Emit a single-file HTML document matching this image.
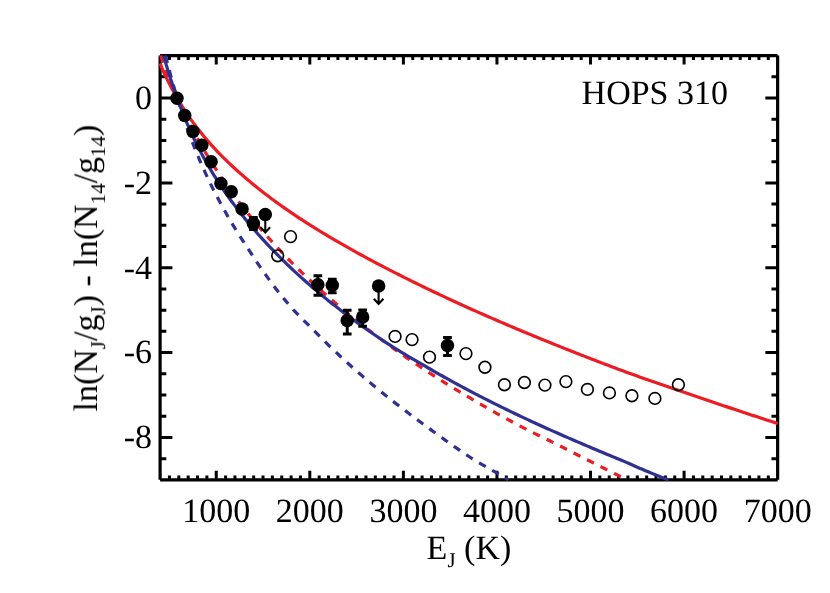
<!DOCTYPE html>
<html><head><meta charset="utf-8"><title>HOPS 310</title>
<style>html,body{margin:0;padding:0;background:#fff;}body{width:830px;height:593px;overflow:hidden;position:relative;font-family:"Liberation Serif",serif;}</style>
</head><body>
<svg width="830" height="593" viewBox="0 0 830 593" style="position:absolute;left:0;top:0">
<defs><mask id="m" maskUnits="userSpaceOnUse" x="0" y="0" width="830" height="593"><rect width="830" height="593" fill="#fff"/></mask></defs>
<rect width="830" height="593" fill="#fff"/>
<g stroke="#000" stroke-width="3.00" fill="none" stroke-linecap="butt">
<path d="M160.10,55.60 H777.65 M160.10,479.85 H777.65" stroke-width="3.05"/>
<path d="M160.10,479.85 V55.60 M777.65,479.85 V55.60" stroke-width="3.2"/>
<path d="M169.46,479.85 v-4.30 M169.46,55.60 v4.30 M178.81,479.85 v-4.30 M178.81,55.60 v4.30 M188.17,479.85 v-4.30 M188.17,55.60 v4.30 M197.53,479.85 v-4.30 M197.53,55.60 v4.30 M206.88,479.85 v-4.30 M206.88,55.60 v4.30 M216.24,479.85 v-9.00 M216.24,55.60 v9.00 M225.60,479.85 v-4.30 M225.60,55.60 v4.30 M234.95,479.85 v-4.30 M234.95,55.60 v4.30 M244.31,479.85 v-4.30 M244.31,55.60 v4.30 M253.67,479.85 v-4.30 M253.67,55.60 v4.30 M263.02,479.85 v-4.30 M263.02,55.60 v4.30 M272.38,479.85 v-4.30 M272.38,55.60 v4.30 M281.74,479.85 v-4.30 M281.74,55.60 v4.30 M291.10,479.85 v-4.30 M291.10,55.60 v4.30 M300.45,479.85 v-4.30 M300.45,55.60 v4.30 M309.81,479.85 v-9.00 M309.81,55.60 v9.00 M319.17,479.85 v-4.30 M319.17,55.60 v4.30 M328.52,479.85 v-4.30 M328.52,55.60 v4.30 M337.88,479.85 v-4.30 M337.88,55.60 v4.30 M347.24,479.85 v-4.30 M347.24,55.60 v4.30 M356.59,479.85 v-4.30 M356.59,55.60 v4.30 M365.95,479.85 v-4.30 M365.95,55.60 v4.30 M375.31,479.85 v-4.30 M375.31,55.60 v4.30 M384.66,479.85 v-4.30 M384.66,55.60 v4.30 M394.02,479.85 v-4.30 M394.02,55.60 v4.30 M403.38,479.85 v-9.00 M403.38,55.60 v9.00 M412.73,479.85 v-4.30 M412.73,55.60 v4.30 M422.09,479.85 v-4.30 M422.09,55.60 v4.30 M431.45,479.85 v-4.30 M431.45,55.60 v4.30 M440.80,479.85 v-4.30 M440.80,55.60 v4.30 M450.16,479.85 v-4.30 M450.16,55.60 v4.30 M459.52,479.85 v-4.30 M459.52,55.60 v4.30 M468.88,479.85 v-4.30 M468.88,55.60 v4.30 M478.23,479.85 v-4.30 M478.23,55.60 v4.30 M487.59,479.85 v-4.30 M487.59,55.60 v4.30 M496.95,479.85 v-9.00 M496.95,55.60 v9.00 M506.30,479.85 v-4.30 M506.30,55.60 v4.30 M515.66,479.85 v-4.30 M515.66,55.60 v4.30 M525.02,479.85 v-4.30 M525.02,55.60 v4.30 M534.37,479.85 v-4.30 M534.37,55.60 v4.30 M543.73,479.85 v-4.30 M543.73,55.60 v4.30 M553.09,479.85 v-4.30 M553.09,55.60 v4.30 M562.44,479.85 v-4.30 M562.44,55.60 v4.30 M571.80,479.85 v-4.30 M571.80,55.60 v4.30 M581.16,479.85 v-4.30 M581.16,55.60 v4.30 M590.51,479.85 v-9.00 M590.51,55.60 v9.00 M599.87,479.85 v-4.30 M599.87,55.60 v4.30 M609.23,479.85 v-4.30 M609.23,55.60 v4.30 M618.58,479.85 v-4.30 M618.58,55.60 v4.30 M627.94,479.85 v-4.30 M627.94,55.60 v4.30 M637.30,479.85 v-4.30 M637.30,55.60 v4.30 M646.65,479.85 v-4.30 M646.65,55.60 v4.30 M656.01,479.85 v-4.30 M656.01,55.60 v4.30 M665.37,479.85 v-4.30 M665.37,55.60 v4.30 M674.73,479.85 v-4.30 M674.73,55.60 v4.30 M684.08,479.85 v-9.00 M684.08,55.60 v9.00 M693.44,479.85 v-4.30 M693.44,55.60 v4.30 M702.80,479.85 v-4.30 M702.80,55.60 v4.30 M712.15,479.85 v-4.30 M712.15,55.60 v4.30 M721.51,479.85 v-4.30 M721.51,55.60 v4.30 M730.87,479.85 v-4.30 M730.87,55.60 v4.30 M740.22,479.85 v-4.30 M740.22,55.60 v4.30 M749.58,479.85 v-4.30 M749.58,55.60 v4.30 M758.94,479.85 v-4.30 M758.94,55.60 v4.30 M768.29,479.85 v-4.30 M768.29,55.60 v4.30 M160.10,458.64 h6.20 M777.65,458.64 h-6.20 M160.10,437.42 h12.30 M777.65,437.42 h-12.30 M160.10,416.21 h6.20 M777.65,416.21 h-6.20 M160.10,395.00 h6.20 M777.65,395.00 h-6.20 M160.10,373.79 h6.20 M777.65,373.79 h-6.20 M160.10,352.57 h12.30 M777.65,352.57 h-12.30 M160.10,331.36 h6.20 M777.65,331.36 h-6.20 M160.10,310.15 h6.20 M777.65,310.15 h-6.20 M160.10,288.94 h6.20 M777.65,288.94 h-6.20 M160.10,267.73 h12.30 M777.65,267.73 h-12.30 M160.10,246.51 h6.20 M777.65,246.51 h-6.20 M160.10,225.30 h6.20 M777.65,225.30 h-6.20 M160.10,204.09 h6.20 M777.65,204.09 h-6.20 M160.10,182.88 h12.30 M777.65,182.88 h-12.30 M160.10,161.66 h6.20 M777.65,161.66 h-6.20 M160.10,140.45 h6.20 M777.65,140.45 h-6.20 M160.10,119.24 h6.20 M777.65,119.24 h-6.20 M160.10,98.03 h12.30 M777.65,98.03 h-12.30 M160.10,76.81 h6.20 M777.65,76.81 h-6.20"/>
</g>
<g fill="none" stroke-width="3.2" stroke-linejoin="round" stroke-linecap="butt">
<path d="M160.10,63.40 L162.00,68.06 L164.19,73.08 L166.38,77.80 L168.57,82.26 L170.76,86.50 L172.95,90.55 L175.14,94.47 L177.33,98.27 L179.52,101.97 L181.71,105.55 L183.90,109.02 L186.09,112.38 L188.28,115.65 L190.47,118.81 L192.66,121.89 L194.85,124.88 L197.04,127.78 L199.23,130.60 L201.42,133.33 L203.61,136.00 L205.80,138.60 L207.99,141.15 L210.18,143.63 L212.37,146.07 L214.56,148.45 L216.76,150.78 L218.95,153.07 L221.14,155.32 L223.33,157.52 L225.52,159.69 L227.71,161.81 L229.90,163.91 L232.09,165.97 L234.28,167.99 L236.47,169.99 L238.66,171.96 L240.85,173.89 L243.04,175.81 L245.23,177.69 L247.42,179.56 L249.61,181.39 L251.80,183.21 L253.99,185.01 L256.18,186.78 L258.37,188.53 L260.56,190.27 L262.75,191.98 L264.94,193.68 L267.13,195.35 L269.32,197.01 L271.51,198.66 L273.70,200.28 L275.89,201.89 L278.09,203.48 L280.28,205.05 L282.47,206.61 L284.66,208.15 L286.85,209.68 L289.04,211.19 L291.23,212.69 L293.42,214.17 L295.61,215.64 L297.80,217.10 L299.99,218.54 L302.18,219.96 L304.37,221.38 L306.56,222.78 L308.75,224.17 L310.94,225.56 L313.13,226.93 L315.32,228.29 L317.51,229.65 L319.70,230.99 L321.89,232.32 L324.08,233.65 L326.27,234.97 L328.46,236.27 L330.65,237.57 L332.84,238.87 L335.03,240.15 L337.23,241.42 L339.42,242.69 L341.61,243.95 L343.80,245.21 L345.99,246.45 L348.18,247.69 L350.37,248.92 L352.56,250.15 L354.75,251.37 L356.94,252.58 L359.13,253.78 L361.32,254.98 L363.51,256.18 L365.70,257.36 L367.89,258.55 L370.08,259.72 L372.27,260.89 L374.46,262.06 L376.65,263.22 L378.84,264.37 L381.03,265.52 L383.22,266.66 L385.41,267.80 L387.60,268.94 L389.79,270.07 L391.98,271.19 L394.17,272.31 L396.37,273.43 L398.56,274.54 L400.75,275.64 L402.94,276.75 L405.13,277.84 L407.32,278.94 L409.51,280.03 L411.70,281.11 L413.89,282.19 L416.08,283.27 L418.27,284.34 L420.46,285.41 L422.65,286.47 L424.84,287.53 L427.03,288.59 L429.22,289.64 L431.41,290.69 L433.60,291.74 L435.79,292.78 L437.98,293.82 L440.17,294.85 L442.36,295.88 L444.55,296.91 L446.74,297.93 L448.93,298.95 L451.12,299.97 L453.31,300.98 L455.51,301.99 L457.70,302.99 L459.89,304.00 L462.08,304.99 L464.27,305.99 L466.46,306.98 L468.65,307.97 L470.84,308.95 L473.03,309.93 L475.22,310.91 L477.41,311.88 L479.60,312.85 L481.79,313.82 L483.98,314.78 L486.17,315.74 L488.36,316.70 L490.55,317.65 L492.74,318.61 L494.93,319.55 L497.12,320.50 L499.31,321.44 L501.50,322.38 L503.69,323.32 L505.88,324.26 L508.07,325.19 L510.26,326.12 L512.45,327.05 L514.65,327.98 L516.84,328.90 L519.03,329.82 L521.22,330.74 L523.41,331.66 L525.60,332.57 L527.79,333.48 L529.98,334.39 L532.17,335.30 L534.36,336.20 L536.55,337.10 L538.74,338.00 L540.93,338.90 L543.12,339.80 L545.31,340.69 L547.50,341.58 L549.69,342.47 L551.88,343.35 L554.07,344.24 L556.26,345.12 L558.45,346.00 L560.64,346.87 L562.83,347.75 L565.02,348.62 L567.21,349.49 L569.40,350.36 L571.59,351.22 L573.79,352.09 L575.98,352.95 L578.17,353.81 L580.36,354.67 L582.55,355.52 L584.74,356.37 L586.93,357.22 L589.12,358.07 L591.31,358.92 L593.50,359.76 L595.69,360.60 L597.88,361.44 L600.07,362.28 L602.26,363.12 L604.45,363.95 L606.64,364.78 L608.83,365.61 L611.02,366.44 L613.21,367.26 L615.40,368.08 L617.59,368.90 L619.78,369.72 L621.97,370.54 L624.16,371.35 L626.35,372.15 L628.54,372.95 L630.73,373.75 L632.92,374.54 L635.12,375.33 L637.31,376.11 L639.50,376.89 L641.69,377.67 L643.88,378.44 L646.07,379.22 L648.26,379.98 L650.45,380.75 L652.64,381.51 L654.83,382.27 L657.02,383.03 L659.21,383.79 L661.40,384.54 L663.59,385.29 L665.78,386.05 L667.97,386.80 L670.16,387.55 L672.35,388.30 L674.54,389.04 L676.73,389.79 L678.92,390.54 L681.11,391.29 L683.30,392.03 L685.49,392.78 L687.68,393.53 L689.87,394.28 L692.06,395.03 L694.26,395.78 L696.45,396.53 L698.64,397.27 L700.83,398.02 L703.02,398.76 L705.21,399.51 L707.40,400.25 L709.59,400.99 L711.78,401.73 L713.97,402.47 L716.16,403.21 L718.35,403.95 L720.54,404.69 L722.73,405.43 L724.92,406.16 L727.11,406.89 L729.30,407.63 L731.49,408.36 L733.68,409.09 L735.87,409.82 L738.06,410.55 L740.25,411.28 L742.44,412.00 L744.63,412.73 L746.82,413.45 L749.01,414.18 L751.20,414.90 L753.40,415.62 L755.59,416.34 L757.78,417.06 L759.97,417.78 L762.16,418.49 L764.35,419.21 L766.54,419.92 L768.73,420.64 L770.92,421.35 L773.11,422.06 L775.30,422.77 L777.49,423.47 L777.65,423.53" stroke="#ed1c24"/>
<path d="M160.67,55.60 L162.00,59.51 L164.19,65.68 L166.38,71.61 L168.57,77.32 L170.76,82.82 L172.95,88.14 L175.14,93.29 L177.33,98.29 L179.52,103.15 L181.71,107.87 L183.90,112.46 L186.09,116.94 L188.28,121.31 L190.47,125.58 L192.66,129.75 L194.85,133.83 L197.04,137.82 L199.23,141.73 L201.42,145.56 L203.61,149.32 L205.80,153.01 L207.99,156.63 L210.18,160.18 L212.37,163.67 L214.56,167.11 L216.76,170.49 L218.95,173.81 L221.14,177.08 L223.33,180.30 L225.52,183.47 L227.71,186.59 L229.90,189.67 L232.09,192.70 L234.28,195.70 L236.47,198.65 L238.66,201.56 L240.85,204.43 L243.04,207.27 L245.23,210.07 L247.42,212.83 L249.61,215.56 L251.80,218.26 L253.99,220.93 L256.18,223.56 L258.37,226.16 L260.56,228.74 L262.75,231.28 L264.94,233.80 L267.13,236.29 L269.32,238.75 L271.51,241.19 L273.70,243.60 L275.89,245.99 L278.09,248.35 L280.28,250.69 L282.47,253.01 L284.66,255.30 L286.85,257.57 L289.04,259.82 L291.23,262.05 L293.42,264.26 L295.61,266.44 L297.80,268.61 L299.99,270.76 L302.18,272.89 L304.37,275.00 L306.56,277.09 L308.75,279.16 L310.94,281.22 L313.13,283.26 L315.32,285.28 L317.51,287.29 L319.70,289.27 L321.89,291.25 L324.08,293.20 L326.27,295.15 L328.46,297.07 L330.65,298.98 L332.84,300.88 L335.03,302.76 L337.23,304.63 L339.42,306.48 L341.61,308.32 L343.80,310.15 L345.99,311.97 L348.18,313.77 L350.37,315.55 L352.56,317.33 L354.75,319.09 L356.94,320.84 L359.13,322.58 L361.32,324.30 L363.51,326.02 L365.70,327.72 L367.89,329.41 L370.08,331.09 L372.27,332.76 L374.46,334.42 L376.65,336.07 L378.84,337.71 L381.03,339.33 L383.22,340.95 L385.41,342.55 L387.60,344.15 L389.79,345.74 L391.98,347.31 L394.17,348.88 L396.37,350.44 L398.56,351.98 L400.75,353.52 L402.94,355.05 L405.13,356.57 L407.32,358.09 L409.51,359.59 L411.70,361.08 L413.89,362.57 L416.08,364.04 L418.27,365.51 L420.46,366.97 L422.65,368.43 L424.84,369.87 L427.03,371.31 L429.22,372.74 L431.41,374.16 L433.60,375.57 L435.79,376.97 L437.98,378.37 L440.17,379.76 L442.36,381.15 L444.55,382.52 L446.74,383.89 L448.93,385.25 L451.12,386.61 L453.31,387.95 L455.51,389.30 L457.70,390.63 L459.89,391.96 L462.08,393.28 L464.27,394.59 L466.46,395.90 L468.65,397.20 L470.84,398.49 L473.03,399.78 L475.22,401.07 L477.41,402.34 L479.60,403.61 L481.79,404.88 L483.98,406.13 L486.17,407.39 L488.36,408.63 L490.55,409.87 L492.74,411.11 L494.93,412.34 L497.12,413.56 L499.31,414.78 L501.50,415.99 L503.69,417.20 L505.88,418.40 L508.07,419.59 L510.26,420.78 L512.45,421.97 L514.65,423.15 L516.84,424.32 L519.03,425.49 L521.22,426.66 L523.41,427.80 L525.60,428.93 L527.79,430.04 L529.98,431.14 L532.17,432.23 L534.36,433.31 L536.55,434.38 L538.74,435.45 L540.93,436.52 L543.12,437.58 L545.31,438.64 L547.50,439.71 L549.69,440.78 L551.88,441.86 L554.07,442.95 L556.26,444.04 L558.45,445.15 L560.64,446.26 L562.83,447.37 L565.02,448.49 L567.21,449.61 L569.40,450.74 L571.59,451.86 L573.79,452.98 L575.98,454.10 L578.17,455.21 L580.36,456.32 L582.55,457.42 L584.74,458.53 L586.93,459.64 L589.12,460.74 L591.31,461.85 L593.50,462.96 L595.69,464.07 L597.88,465.17 L600.07,466.28 L602.26,467.39 L604.45,468.49 L606.64,469.59 L608.83,470.69 L611.02,471.79 L613.21,472.90 L615.40,474.01 L617.59,475.12 L619.78,476.23 L621.97,477.34 L624.16,478.45 L626.35,479.53 L627.00,479.85" stroke="#ed1c24" stroke-dasharray="7.6 7.5"/>
<path d="M163.84,55.60 L164.19,57.02 L166.38,65.24 L168.57,72.60 L170.76,79.48 L172.95,86.01 L175.14,92.17 L177.33,98.32 L179.52,104.41 L181.71,110.22 L183.90,115.77 L186.09,121.10 L188.28,126.21 L190.47,131.13 L192.66,135.88 L194.85,140.47 L197.04,144.90 L199.23,149.20 L201.42,153.37 L203.61,157.42 L205.80,161.35 L207.99,165.19 L210.18,168.92 L212.37,172.56 L214.56,176.12 L216.76,179.59 L218.95,182.99 L221.14,186.31 L223.33,189.57 L225.52,192.76 L227.71,195.88 L229.90,198.95 L232.09,201.96 L234.28,204.91 L236.47,207.82 L238.66,210.67 L240.85,213.48 L243.04,216.24 L245.23,218.96 L247.42,221.63 L249.61,224.27 L251.80,226.87 L253.99,229.43 L256.18,231.95 L258.37,234.44 L260.56,236.89 L262.75,239.31 L264.94,241.70 L267.13,244.06 L269.32,246.39 L271.51,248.70 L273.70,250.97 L275.89,253.22 L278.09,255.44 L280.28,257.63 L282.47,259.80 L284.66,261.95 L286.85,264.07 L289.04,266.17 L291.23,268.25 L293.42,270.31 L295.61,272.34 L297.80,274.36 L299.99,276.35 L302.18,278.33 L304.37,280.28 L306.56,282.22 L308.75,284.14 L310.94,286.04 L313.13,287.92 L315.32,289.79 L317.51,291.64 L319.70,293.47 L321.89,295.28 L324.08,297.09 L326.27,298.87 L328.46,300.64 L330.65,302.40 L332.84,304.14 L335.03,305.86 L337.23,307.58 L339.42,309.28 L341.61,310.96 L343.80,312.63 L345.99,314.29 L348.18,315.94 L350.37,317.57 L352.56,319.19 L354.75,320.80 L356.94,322.40 L359.13,323.99 L361.32,325.56 L363.51,327.12 L365.70,328.67 L367.89,330.21 L370.08,331.74 L372.27,333.26 L374.46,334.77 L376.65,336.27 L378.84,337.76 L381.03,339.23 L383.22,340.69 L385.41,342.13 L387.60,343.56 L389.79,344.97 L391.98,346.36 L394.17,347.74 L396.37,349.10 L398.56,350.45 L400.75,351.79 L402.94,353.12 L405.13,354.44 L407.32,355.75 L409.51,357.05 L411.70,358.34 L413.89,359.63 L416.08,360.91 L418.27,362.18 L420.46,363.45 L422.65,364.72 L424.84,365.98 L427.03,367.24 L429.22,368.50 L431.41,369.76 L433.60,371.02 L435.79,372.28 L437.98,373.53 L440.17,374.77 L442.36,376.01 L444.55,377.24 L446.74,378.46 L448.93,379.68 L451.12,380.89 L453.31,382.10 L455.51,383.30 L457.70,384.49 L459.89,385.67 L462.08,386.85 L464.27,388.03 L466.46,389.19 L468.65,390.35 L470.84,391.51 L473.03,392.66 L475.22,393.80 L477.41,394.94 L479.60,396.07 L481.79,397.20 L483.98,398.32 L486.17,399.44 L488.36,400.55 L490.55,401.65 L492.74,402.75 L494.93,403.85 L497.12,404.94 L499.31,406.02 L501.50,407.10 L503.69,408.18 L505.88,409.25 L508.07,410.31 L510.26,411.37 L512.45,412.42 L514.65,413.47 L516.84,414.52 L519.03,415.56 L521.22,416.59 L523.41,417.62 L525.60,418.65 L527.79,419.67 L529.98,420.69 L532.17,421.70 L534.36,422.71 L536.55,423.72 L538.74,424.71 L540.93,425.71 L543.12,426.70 L545.31,427.69 L547.50,428.68 L549.69,429.66 L551.88,430.64 L554.07,431.61 L556.26,432.58 L558.45,433.55 L560.64,434.52 L562.83,435.48 L565.02,436.44 L567.21,437.40 L569.40,438.35 L571.59,439.30 L573.79,440.25 L575.98,441.20 L578.17,442.14 L580.36,443.08 L582.55,444.02 L584.74,444.95 L586.93,445.88 L589.12,446.81 L591.31,447.74 L593.50,448.66 L595.69,449.58 L597.88,450.50 L600.07,451.41 L602.26,452.33 L604.45,453.24 L606.64,454.15 L608.83,455.05 L611.02,455.96 L613.21,456.86 L615.40,457.76 L617.59,458.65 L619.78,459.55 L621.97,460.45 L624.16,461.39 L626.35,462.35 L628.54,463.33 L630.73,464.32 L632.92,465.30 L635.12,466.28 L637.31,467.24 L639.50,468.19 L641.69,469.10 L643.88,470.02 L646.07,470.93 L648.26,471.83 L650.45,472.73 L652.64,473.62 L654.83,474.51 L657.02,475.38 L659.21,476.26 L661.40,477.12 L663.59,477.98 L665.78,478.83 L667.97,479.68 L668.42,479.85" stroke="#2e3192"/>
<path d="M165.62,55.60 L166.38,58.84 L168.57,67.58 L170.76,75.77 L172.95,83.61 L175.14,91.08 L177.33,98.34 L179.52,105.41 L181.71,112.22 L183.90,118.77 L186.09,125.10 L188.28,131.21 L190.47,137.13 L192.66,142.85 L194.85,148.40 L197.04,153.79 L199.23,159.03 L201.42,164.11 L203.61,169.06 L205.80,173.88 L207.99,178.57 L210.18,183.14 L212.37,187.60 L214.56,191.95 L216.76,196.20 L218.95,200.35 L221.14,204.42 L223.33,208.40 L225.52,212.30 L227.71,216.12 L229.90,219.87 L232.09,223.56 L234.28,227.17 L236.47,230.73 L238.66,234.23 L240.85,237.67 L243.04,241.06 L245.23,244.40 L247.42,247.74 L249.61,251.08 L251.80,254.42 L253.99,257.74 L256.18,261.04 L258.37,264.31 L260.56,267.53 L262.75,270.70 L264.94,273.79 L267.13,276.84 L269.32,279.86 L271.51,282.84 L273.70,285.79 L275.89,288.68 L278.09,291.50 L280.28,294.26 L282.47,296.95 L284.66,299.61 L286.85,302.22 L289.04,304.80 L291.23,307.34 L293.42,309.82 L295.61,312.19 L297.80,314.48 L299.99,316.72 L302.18,318.95 L304.37,321.10 L306.56,323.19 L308.75,325.27 L310.94,327.42 L313.13,329.67 L315.32,331.93 L317.51,334.17 L319.70,336.38 L321.89,338.58 L324.08,340.76 L326.27,342.91 L328.46,345.05 L330.65,347.17 L332.84,349.27 L335.03,351.36 L337.23,353.43 L339.42,355.48 L341.61,357.51 L343.80,359.53 L345.99,361.54 L348.18,363.52 L350.37,365.50 L352.56,367.45 L354.75,369.40 L356.94,371.33 L359.13,373.24 L361.32,375.14 L363.51,377.03 L365.70,378.90 L367.89,380.77 L370.08,382.62 L372.27,384.45 L374.46,386.28 L376.65,388.09 L378.84,389.89 L381.03,391.68 L383.22,393.45 L385.41,395.22 L387.60,396.97 L389.79,398.72 L391.98,400.45 L394.17,402.17 L396.37,403.88 L398.56,405.58 L400.75,407.28 L402.94,408.96 L405.13,410.63 L407.32,412.29 L409.51,413.94 L411.70,415.59 L413.89,417.22 L416.08,418.85 L418.27,420.46 L420.46,422.07 L422.65,423.67 L424.84,425.28 L427.03,426.88 L429.22,428.49 L431.41,430.09 L433.60,431.69 L435.79,433.28 L437.98,434.88 L440.17,436.46 L442.36,438.04 L444.55,439.62 L446.74,441.18 L448.93,442.74 L451.12,444.29 L453.31,445.83 L455.51,447.36 L457.70,448.88 L459.89,450.39 L462.08,451.88 L464.27,453.36 L466.46,454.83 L468.65,456.28 L470.84,457.72 L473.03,459.11 L475.22,460.46 L477.41,461.78 L479.60,463.07 L481.79,464.34 L483.98,465.59 L486.17,466.84 L488.36,468.08 L490.55,469.33 L492.74,470.60 L494.93,471.88 L497.12,473.19 L499.31,474.50 L501.50,475.81 L503.69,477.12 L505.88,478.43 L508.07,479.73 L508.28,479.85" stroke="#2e3192" stroke-dasharray="7.6 7.5"/>
</g>
<g stroke="#000" fill="none">
<circle cx="277.67" cy="255.80" r="5.85" stroke-width="1.65"/>
<circle cx="290.55" cy="236.60" r="5.85" stroke-width="1.65"/>
<circle cx="395.07" cy="336.40" r="5.85" stroke-width="1.65"/>
<circle cx="412.03" cy="339.60" r="5.85" stroke-width="1.65"/>
<circle cx="429.50" cy="357.10" r="5.85" stroke-width="1.65"/>
<circle cx="465.96" cy="353.60" r="5.85" stroke-width="1.65"/>
<circle cx="484.94" cy="367.20" r="5.85" stroke-width="1.65"/>
<circle cx="504.43" cy="384.80" r="5.85" stroke-width="1.65"/>
<circle cx="524.42" cy="382.50" r="5.85" stroke-width="1.65"/>
<circle cx="544.92" cy="385.10" r="5.85" stroke-width="1.65"/>
<circle cx="565.91" cy="381.60" r="5.85" stroke-width="1.65"/>
<circle cx="587.42" cy="389.40" r="5.85" stroke-width="1.65"/>
<circle cx="609.41" cy="392.90" r="5.85" stroke-width="1.65"/>
<circle cx="631.91" cy="395.80" r="5.85" stroke-width="1.65"/>
<circle cx="654.90" cy="398.40" r="5.85" stroke-width="1.65"/>
<circle cx="678.39" cy="384.80" r="5.85" stroke-width="1.65"/>
<circle cx="176.99" cy="98.20" r="6.75" fill="#000" stroke="none"/>
<circle cx="184.75" cy="115.60" r="6.75" fill="#000" stroke="none"/>
<circle cx="193.01" cy="131.60" r="6.75" fill="#000" stroke="none"/>
<circle cx="201.79" cy="145.30" r="6.75" fill="#000" stroke="none"/>
<circle cx="211.09" cy="161.70" r="6.75" fill="#000" stroke="none"/>
<circle cx="220.90" cy="183.60" r="6.75" fill="#000" stroke="none"/>
<circle cx="231.23" cy="191.70" r="6.75" fill="#000" stroke="none"/>
<circle cx="242.08" cy="209.00" r="6.75" fill="#000" stroke="none"/>
<path d="M253.42,217.40 V229.40" stroke-width="3.0"/>
<path d="M249.07,217.40 h8.7 M249.07,229.40 h8.7" stroke-width="3.0"/>
<circle cx="253.42" cy="223.40" r="6.75" fill="#000" stroke="none"/>
<path d="M317.87,275.65 V295.20" stroke-width="3.0"/>
<path d="M313.52,275.65 h8.7 M313.52,295.20 h8.7" stroke-width="3.0"/>
<circle cx="317.87" cy="284.75" r="6.75" fill="#000" stroke="none"/>
<path d="M332.28,279.20 V292.80" stroke-width="3.0"/>
<path d="M327.93,279.20 h8.7 M327.93,292.80 h8.7" stroke-width="3.0"/>
<circle cx="332.28" cy="285.30" r="6.75" fill="#000" stroke="none"/>
<path d="M347.22,310.20 V333.90" stroke-width="3.0"/>
<path d="M342.87,310.20 h8.7 M342.87,333.90 h8.7" stroke-width="3.0"/>
<circle cx="347.22" cy="320.60" r="6.75" fill="#000" stroke="none"/>
<path d="M362.66,309.90 V326.30" stroke-width="3.0"/>
<path d="M358.31,309.90 h8.7 M358.31,326.30 h8.7" stroke-width="3.0"/>
<circle cx="362.66" cy="316.90" r="6.75" fill="#000" stroke="none"/>
<path d="M447.48,337.45 V355.40" stroke-width="3.0"/>
<path d="M443.13,337.45 h8.7 M443.13,355.40 h8.7" stroke-width="3.0"/>
<circle cx="447.48" cy="345.55" r="6.75" fill="#000" stroke="none"/>
<circle cx="265.29" cy="214.60" r="6.75" fill="#000" stroke="none"/>
<path d="M265.29,214.60 V231.40 M260.49,227.20 L265.29,232.50 L270.09,227.20" stroke-width="2.1" stroke-linejoin="miter" stroke-miterlimit="10"/>
<circle cx="378.61" cy="286.10" r="6.75" fill="#000" stroke="none"/>
<path d="M378.61,286.10 V302.90 M373.81,298.70 L378.61,304.00 L383.41,298.70" stroke-width="2.1" stroke-linejoin="miter" stroke-miterlimit="10"/>
</g>
<g mask="url(#m)" text-rendering="geometricPrecision" font-family="'Liberation Serif', serif" font-size="34" fill="#000">
<text x="216.24" y="522.0" text-anchor="middle">1000</text>
<text x="309.81" y="522.0" text-anchor="middle">2000</text>
<text x="403.38" y="522.0" text-anchor="middle">3000</text>
<text x="496.95" y="522.0" text-anchor="middle">4000</text>
<text x="590.51" y="522.0" text-anchor="middle">5000</text>
<text x="684.08" y="522.0" text-anchor="middle">6000</text>
<text x="777.65" y="522.0" text-anchor="middle">7000</text>
<text x="152" y="108.93" text-anchor="end">0</text>
<text x="152" y="193.78" text-anchor="end">-2</text>
<text x="152" y="278.62" text-anchor="end">-4</text>
<text x="152" y="363.47" text-anchor="end">-6</text>
<text x="152" y="448.32" text-anchor="end">-8</text>
<text x="581.6" y="103.7">HOPS 310</text>
<text x="426.6" y="559"><tspan>E</tspan><tspan font-size="21" dy="7.8">J</tspan><tspan dy="-7.8"> (K)</tspan></text>
<text transform="translate(97,411.5) rotate(-90)" x="0" y="0">ln(N<tspan font-size="21" dy="7.8">J</tspan><tspan dy="-7.8">/g</tspan><tspan font-size="21" dy="7.8">J</tspan><tspan dy="-7.8">) - ln(N</tspan><tspan font-size="21" dy="7.8">14</tspan><tspan dy="-7.8">/g</tspan><tspan font-size="21" dy="7.8">14</tspan><tspan dy="-7.8">)</tspan></text>
</g>
</svg>
</body></html>
